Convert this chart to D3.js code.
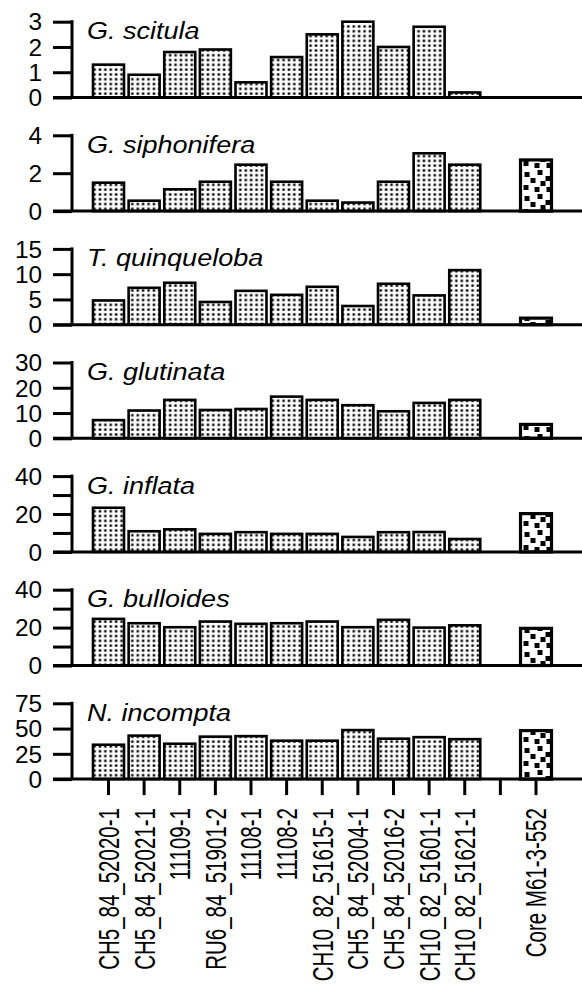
<!DOCTYPE html>
<html>
<head>
<meta charset="utf-8">
<script src="https://cdn.jsdelivr.net/npm/d3@7"></script>
<style>
  body { margin: 0; background: #fff; }
  svg { display: block; font-family: "Liberation Sans", Arial, sans-serif; }
</style>
</head>
<body>
<svg id="chart"></svg>
<script>
// Sample names along the x axis (a blank slot sits before the core)
const samples = ["CH5_84_52020-1", "CH5_84_52021-1", "11109-1", "RU6_84_51901-2", "11108-1", "11108-2",
                 "CH10_82_51615-1", "CH5_84_52004-1", "CH5_84_52016-2", "CH10_82_51601-1", "CH10_82_51621-1"];
const coreName = "Core M61-3-552";
const species = ["G. scitula", "G. siphonifera", "T. quinqueloba", "G. glutinata", "G. inflata", "G. bulloides", "N. incompta"];

// Relative abundance (%) per sample, last value = core top
const scitula     = [1.3, 0.9, 1.8, 1.9, 0.6, 1.6, 2.5, 3.0, 2.0, 2.8, 0.2, null];
const siphonifera = [1.5, 0.55, 1.15, 1.55, 2.45, 1.55, 0.55, 0.45, 1.55, 3.05, 2.45, 2.7];
const quinqueloba = [4.8, 7.3, 8.3, 4.5, 6.7, 5.9, 7.5, 3.7, 8.1, 5.8, 10.8, 1.3];
const glutinata   = [7.2, 11.0, 15.2, 11.2, 11.6, 16.5, 15.2, 13.1, 10.7, 14.0, 15.2, 5.5];
const inflata     = [23.3, 10.9, 11.9, 9.5, 10.4, 9.5, 9.5, 7.9, 10.4, 10.5, 6.8, 20.2];
const bulloides   = [24.6, 22.3, 20.2, 23.2, 22.0, 22.3, 23.2, 20.2, 24.1, 20.0, 21.2, 19.6];
const incompta    = [34, 43, 35, 42, 42.5, 38, 38, 48.5, 40, 41.5, 39.5, 48];
const series = [scitula, siphonifera, quinqueloba, glutinata, inflata, bulloides, incompta];

// Axis maxima and tick values
const yMax = [3, 4, 15, 30, 40, 40, 75];
const yTicks = [[0, 1, 2, 3], [0, 2, 4], [0, 5, 10, 15], [0, 10, 20, 30], [0, 10, 20, 30, 40], [0, 10, 20, 30, 40], [0, 25, 50, 75]];
const yLabels = [[0, 1, 2, 3], [0, 2, 4], [0, 5, 10, 15], [0, 10, 20, 30], [0, 20, 40], [0, 20, 40], [0, 25, 50, 75]];

const width = 582, height = 986;
const panelTop = 21.7, panelStep = 113.6, panelH = 75.8;
const axisX = 72, tickLen = 19;
const fontFam = "Liberation Sans, Arial, sans-serif";

const svg = d3.select("#chart").attr("width", width).attr("height", height);

const blank = " ";
const cats = samples.concat([blank, coreName]);

const x = d3.scaleBand()
    .domain(cats)
    .range([93, 551.5])
    .paddingInner(0.13)
    .paddingOuter(0);

// fill patterns
const defs = svg.append("defs");
const dots = defs.append("pattern")
    .attr("id", "dots")
    .attr("patternUnits", "userSpaceOnUse")
    .attr("width", 5.4).attr("height", 4.8);
dots.append("rect").attr("width", 5.4).attr("height", 4.8).attr("fill", "#fff");
dots.append("rect").attr("x", 1.5).attr("y", 1.3).attr("width", 2.5).attr("height", 2.3).attr("fill", "#000");

const blobs = defs.append("pattern")
    .attr("id", "blobs")
    .attr("patternUnits", "userSpaceOnUse")
    .attr("x", x(coreName))
    .attr("width", 34).attr("height", 24);
blobs.append("rect").attr("width", 34).attr("height", 24).attr("fill", "#fff");
[[4, 4], [17, 2], [25, 8], [10, 10], [20, 13], [3, 17], [14, 19], [26, 19]].forEach(p => {
    blobs.append("rect").attr("x", p[0]).attr("y", p[1]).attr("width", 5).attr("height", 5).attr("fill", "#000");
});

series.forEach(function(vals, i) {
    const top = panelTop + i * panelStep;
    const base = top + panelH;
    const y = d3.scaleLinear().domain([0, yMax[i]]).range([base, top]);
    const g = svg.append("g");

    const rows = cats.map((c, j) => ({cat: c, v: j < samples.length ? vals[j] : (c === coreName ? vals[samples.length] : null)}))
        .filter(d => d.v != null);

    g.selectAll("rect.bar")
        .data(rows)
        .join("rect")
        .attr("class", "bar")
        .attr("x", d => x(d.cat))
        .attr("y", d => y(d.v))
        .attr("width", x.bandwidth())
        .attr("height", d => y(0) - y(d.v))
        .attr("fill", d => d.cat === coreName ? "url(#blobs)" : "url(#dots)")
        .attr("stroke", "#000")
        .attr("stroke-width", d => d.cat === coreName ? 3.2 : 2.6);

    // y axis
    const lab = new Set(yLabels[i]);
    const ax = g.append("g")
        .attr("transform", `translate(${axisX},0)`)
        .call(d3.axisLeft(y).tickValues(yTicks[i]).tickSize(tickLen).tickSizeOuter(0)
            .tickFormat(d => lab.has(d) ? d : ""));
    ax.select(".domain").attr("stroke-width", 3).attr("d", `M0,${base}V${top - 1.5}`);
    ax.selectAll(".tick line").attr("stroke-width", 3);
    ax.selectAll(".tick text")
        .attr("x", 0).attr("dy", "0.36em")
        .attr("transform", `translate(-30,0) scale(1.06,1)`)
        .attr("font-size", 23).attr("fill", "#000")
        .attr("font-family", fontFam);

    // baseline
    g.append("line")
        .attr("x1", axisX - tickLen).attr("x2", width)
        .attr("y1", base).attr("y2", base)
        .attr("stroke", "#000").attr("stroke-width", 3);

    // species name
    g.append("text")
        .attr("transform", `translate(87,${top + 17.5}) scale(1.15,1)`)
        .attr("font-size", 23.5)
        .attr("font-style", "italic")
        .text(species[i]);

    // x axis on the bottom panel
    if (i === series.length - 1) {
        const xa = g.append("g")
            .attr("transform", `translate(0,${base})`)
            .call(d3.axisBottom(x).tickSize(16).tickSizeOuter(0));
        xa.select(".domain").remove();
        xa.selectAll(".tick line").attr("stroke-width", 3);
        xa.selectAll(".tick text")
            .attr("x", 0).attr("y", 0).attr("dy", null)
            .attr("transform", `translate(0,29) rotate(-90) scale(1,1.45)`)
            .attr("text-anchor", "end")
            .attr("dominant-baseline", "central")
            .attr("font-size", 20.5).attr("fill", "#000")
            .attr("font-family", fontFam);
    }
});
</script>
</body>
</html>
